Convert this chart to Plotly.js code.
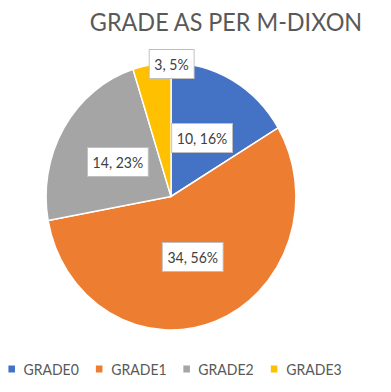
<!DOCTYPE html>
<html>
<head>
<meta charset="utf-8">
<script src="https://cdn.plot.ly/plotly-3.0.1.min.js"></script>
<style>
html,body{margin:0;padding:0;background:#fff;overflow:hidden;}
#wrap{width:391px;height:392px;overflow:hidden;position:relative;}
#chart{width:418px;height:392px;transform:scaleX(0.9355);transform-origin:0 0;}
</style>
</head>
<body>
<div id="wrap"><div id="chart"></div></div>
<script>
const categories = ["GRADE0", "GRADE1", "GRADE2", "GRADE3"];
const values = [10, 34, 14, 3];
const colors = ["#4472C4", "#ED7D31", "#A5A5A5", "#FFC000"];
const chartTitle = "GRADE AS PER M-DIXON";

const W = 418, H = 392;
const cx = 182.8, cy = 196.5, R = 133.5;
const labelR = [0.5, 0.485, 0.5, 0.99];
const labelShift = [0, 0, 0, 9];
const FONT = "Lato, 'Open Sans', sans-serif";

const total = values.reduce((a, b) => a + b, 0);
let cum = 0;
const annotations = values.map((v, i) => {
  const mid = (cum + v / 2) / total * 2 * Math.PI + labelShift[i] * Math.PI / 180;
  cum += v;
  const px = cx + labelR[i] * R * Math.sin(mid);
  const py = cy - labelR[i] * R * Math.cos(mid);
  return {
    x: px / W, y: 1 - py / H, xref: "paper", yref: "paper",
    text: v + ", " + Math.round(v / total * 100) + "%",
    showarrow: false, bgcolor: "#ffffff", bordercolor: "#BFBFBF", borderwidth: 1, borderpad: 5,
    font: {family: FONT, size: 15, color: "#404040"},
    xanchor: "center", yanchor: "middle"
  };
});

// legend built from categories/colors
const legX0 = 9, legStep = 93.5, legY = 369;
const shapes = [];
categories.forEach((c, i) => {
  const sx = legX0 + i * legStep;
  shapes.push({type: "rect", xref: "paper", yref: "paper",
    x0: sx / W, x1: (sx + 7) / W, y0: 1 - (legY + 3.5) / H, y1: 1 - (legY - 3.5) / H,
    fillcolor: colors[i], line: {width: 0}});
  annotations.push({x: (sx + 14) / W, y: 1 - legY / H, xref: "paper", yref: "paper",
    text: c, showarrow: false, xanchor: "left", yanchor: "middle",
    font: {family: FONT, size: 15, color: "#595959"}});
});

const pie = {
  type: "pie", labels: categories, values: values, sort: false, direction: "clockwise", rotation: 0,
  marker: {colors: colors, line: {color: "#ffffff", width: 1.5}},
  textinfo: "none", hoverinfo: "label+value+percent", showlegend: false,
  domain: {x: [(cx - R) / W, (cx + R) / W], y: [1 - (cy + R) / H, 1 - (cy - R) / H]}
};

const layout = {
  width: W, height: H, margin: {l: 0, r: 0, t: 0, b: 0},
  paper_bgcolor: "#ffffff", plot_bgcolor: "#ffffff",
  title: {text: chartTitle, x: 0.578, xanchor: "center", y: 1 - 22 / H, yanchor: "middle",
    font: {family: FONT, size: 25, color: "#595959"}},
  showlegend: false,
  annotations: annotations,
  shapes: shapes
};

Plotly.newPlot("chart", [pie], layout, {displayModeBar: false, staticPlot: true});
</script>
</body>
</html>
